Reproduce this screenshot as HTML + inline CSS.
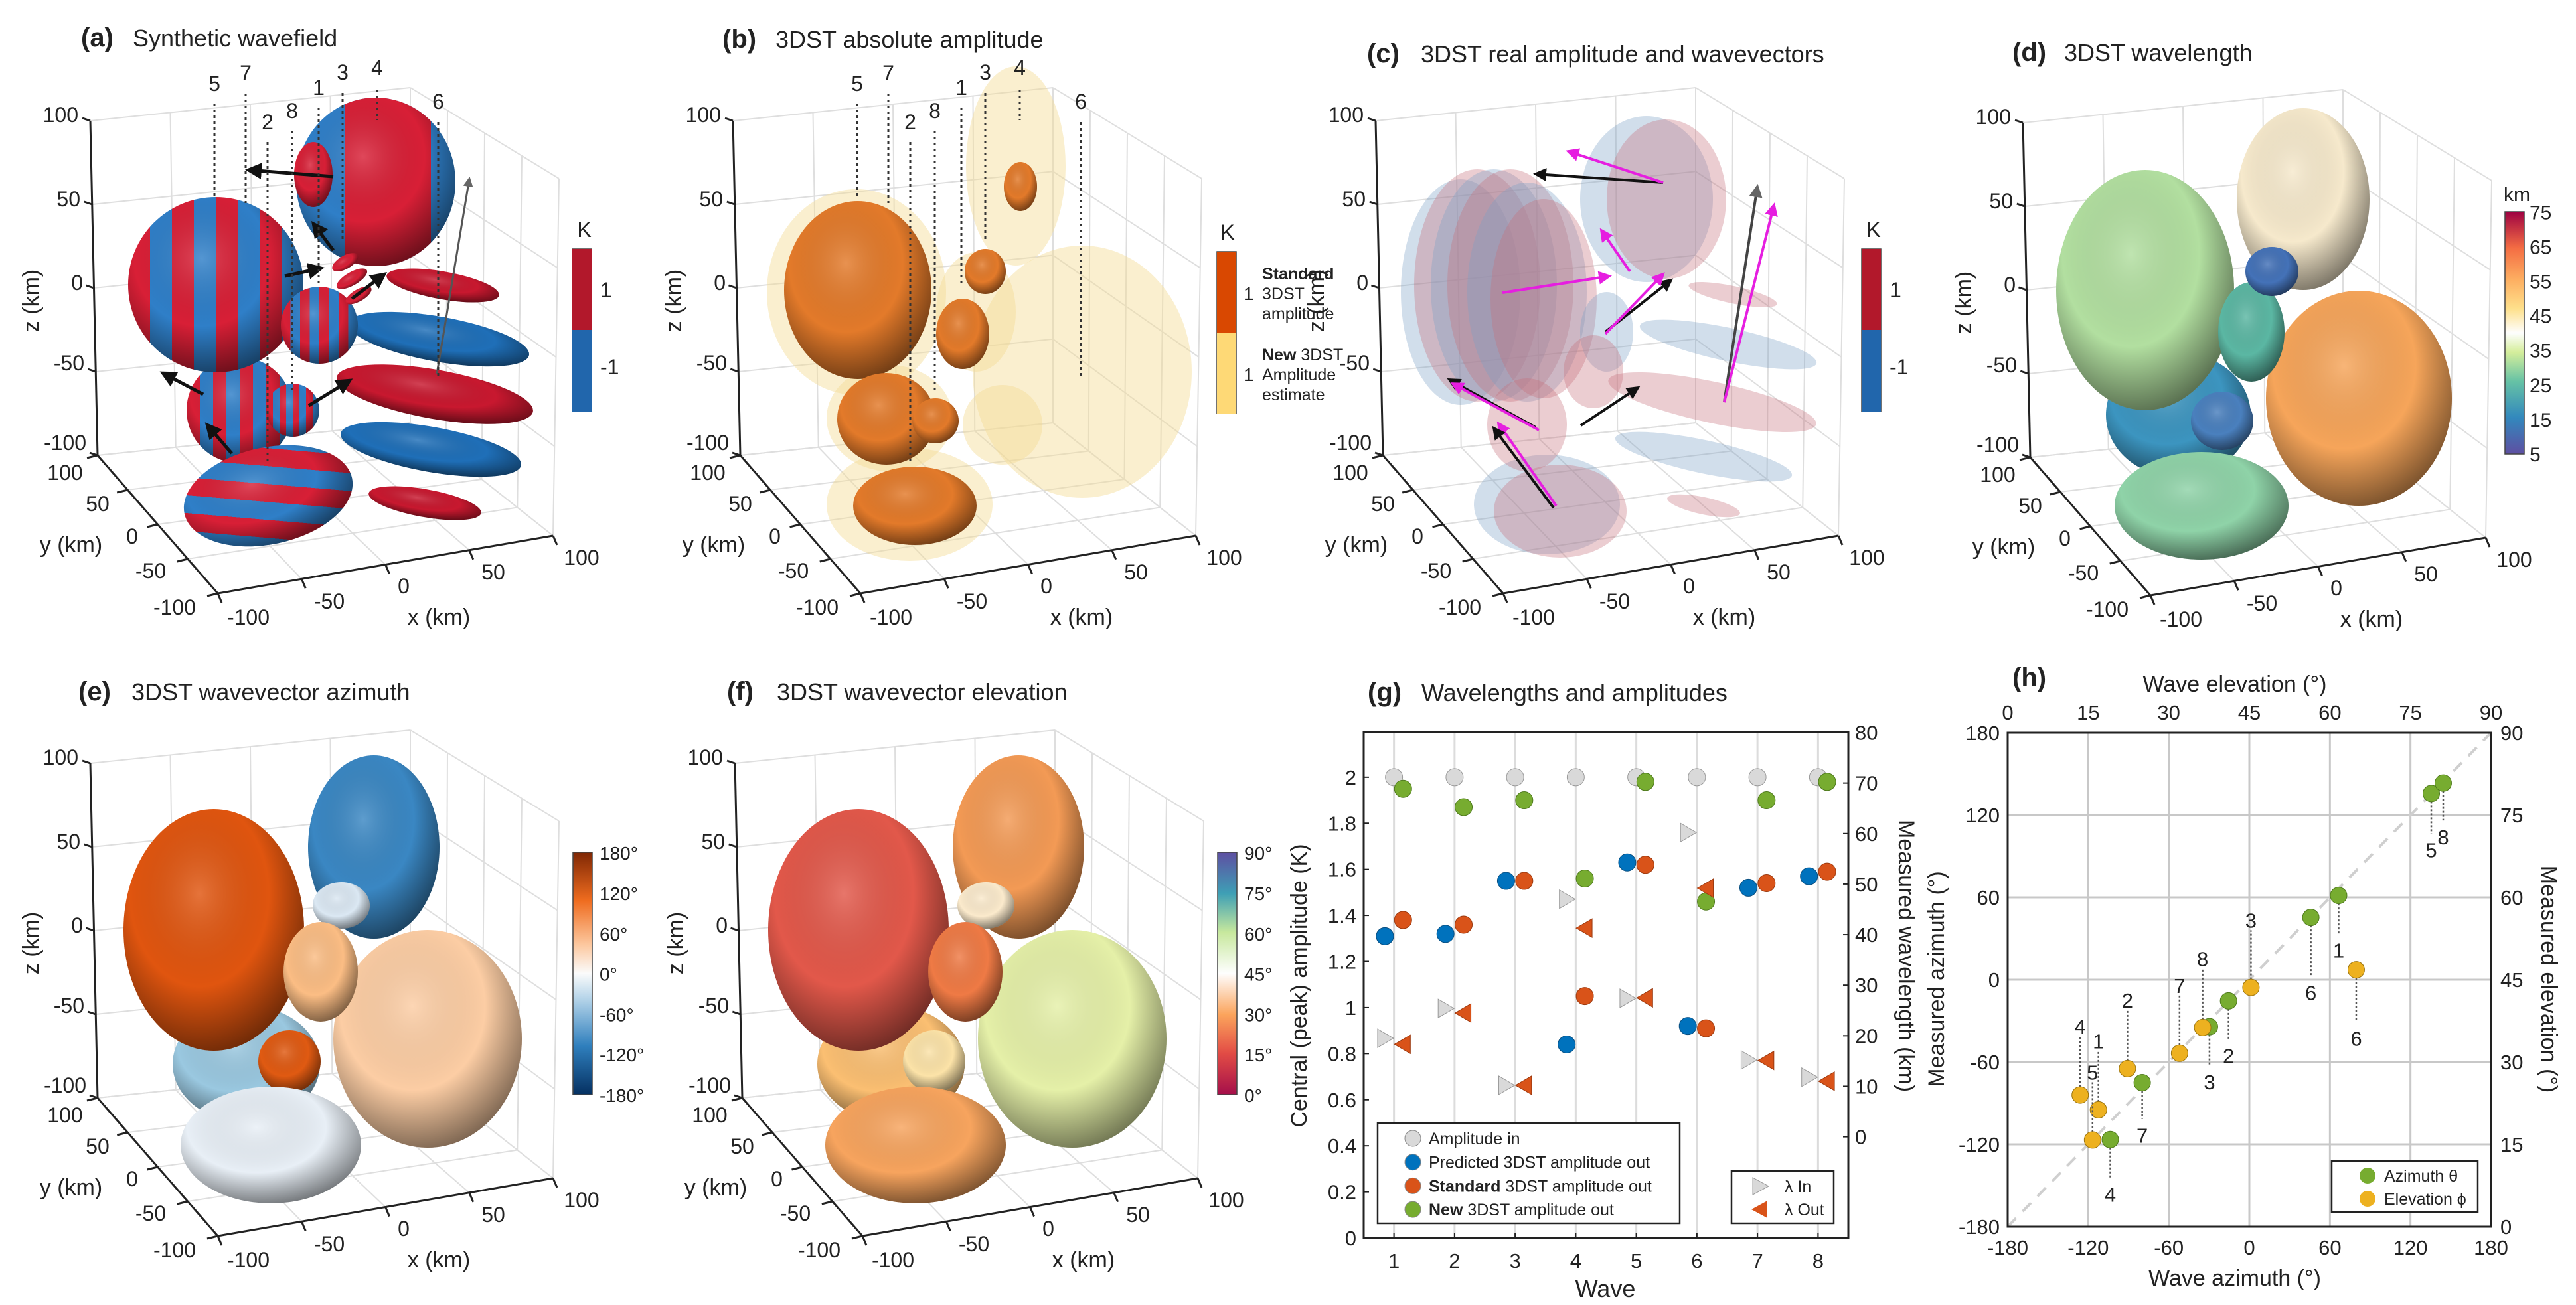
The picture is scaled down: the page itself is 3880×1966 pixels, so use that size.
<!DOCTYPE html>
<html><head><meta charset="utf-8"><title>3DST figure</title>
<style>html,body{margin:0;padding:0;background:#fff}svg{display:block}text{font-family:"Liberation Sans",Arial,sans-serif;fill:#222}</style></head>
<body>
<svg id="fig" xmlns="http://www.w3.org/2000/svg" width="3880" height="1966" viewBox="0 0 3880 1966">
<defs>
<radialGradient id="shade" cx="0.42" cy="0.35" r="0.7"><stop offset="0" stop-color="#fff" stop-opacity="0.18"/><stop offset="0.55" stop-color="#000" stop-opacity="0"/><stop offset="1" stop-color="#000" stop-opacity="0.55"/></radialGradient>
<linearGradient id="stripeV" x1="0" y1="0" x2="0.25" y2="0" spreadMethod="repeat"><stop offset="0" stop-color="#d81f36"/><stop offset="0.5" stop-color="#d81f36"/><stop offset="0.5" stop-color="#2f7fc8"/><stop offset="1" stop-color="#2f7fc8"/></linearGradient>
<linearGradient id="stripeD" x1="0" y1="0.3" x2="0.16" y2="0" spreadMethod="repeat"><stop offset="0" stop-color="#d81f36"/><stop offset="0.5" stop-color="#d81f36"/><stop offset="0.5" stop-color="#2f7fc8"/><stop offset="1" stop-color="#2f7fc8"/></linearGradient>
<linearGradient id="cbWL" x1="0" y1="1" x2="0" y2="0"><stop offset="0" stop-color="#5e4fa2"/><stop offset="0.15" stop-color="#3288bd"/><stop offset="0.3" stop-color="#66c2a5"/><stop offset="0.42" stop-color="#d5ee9b"/><stop offset="0.5" stop-color="#fefefe"/><stop offset="0.6" stop-color="#fee08b"/><stop offset="0.72" stop-color="#fdae61"/><stop offset="0.85" stop-color="#f46d43"/><stop offset="1" stop-color="#9e0142"/></linearGradient>
<linearGradient id="cbAZ" x1="0" y1="1" x2="0" y2="0"><stop offset="0" stop-color="#053061"/><stop offset="0.2" stop-color="#2f7fbd"/><stop offset="0.4" stop-color="#b8d6ea"/><stop offset="0.5" stop-color="#fbfbfb"/><stop offset="0.62" stop-color="#fcc79e"/><stop offset="0.8" stop-color="#ef6c1f"/><stop offset="1" stop-color="#7f2704"/></linearGradient>
<linearGradient id="cbEL" x1="0" y1="1" x2="0" y2="0"><stop offset="0" stop-color="#a50f4a"/><stop offset="0.17" stop-color="#e24c45"/><stop offset="0.33" stop-color="#fba45c"/><stop offset="0.5" stop-color="#fefefe"/><stop offset="0.67" stop-color="#c7e89d"/><stop offset="0.83" stop-color="#3e9fb5"/><stop offset="1" stop-color="#5e4fa2"/></linearGradient>
<clipPath id="topEll"><ellipse cx="566" cy="274" rx="120" ry="127"/></clipPath>
<marker id="ahK" viewBox="0 0 10 10" refX="8" refY="5" markerWidth="5" markerHeight="5" orient="auto"><path d="M0,0L10,5L0,10z" fill="#111"/></marker>
<marker id="ahG" viewBox="0 0 10 10" refX="8" refY="5" markerWidth="5" markerHeight="5" orient="auto"><path d="M0,0L10,5L0,10z" fill="#666"/></marker>
<marker id="ahM" viewBox="0 0 10 10" refX="8" refY="5" markerWidth="5" markerHeight="5" orient="auto"><path d="M0,0L10,5L0,10z" fill="#e61ee0"/></marker>
</defs>
</svg>
<script>
// ---------- Panel g data ----------
const waves=[1,2,3,4,5,6,7,8];
const ampIn=[2,2,2,2,2,2,2,2];
const ampPredicted=[1.31,1.32,1.55,0.84,1.63,0.92,1.52,1.57];
const ampStandard=[1.38,1.36,1.55,1.05,1.62,0.91,1.54,1.59];
const ampNew=[1.95,1.87,1.90,1.56,1.98,1.46,1.90,1.98];
const lambdaIn=[19.5,25.4,10.2,47,27.4,60.2,15.2,11.8];
const lambdaOut=[18.3,24.5,10.2,41.3,27.5,49.2,15.1,11];
const gLeftTicks=[0,0.2,0.4,0.6,0.8,1,1.2,1.4,1.6,1.8,2];
const gLeftTickLabels=['0','0.2','0.4','0.6','0.8','1','1.2','1.4','1.6','1.8','2'];
const gRightTicks=[0,10,20,30,40,50,60,70,80];
// ---------- Panel h data ----------
const hWaveIds=['1','2','3','4','5','6','7','8'];
const azIn=[66.5,-15.5,-29.7,-103.6,135.5,45.8,-79.8,144.4];
const azOut=[61.4,-15.4,-34.2,-116.5,135.8,45.4,-75,143.4];
const azLabelAt=[21,-56,-75,-157,94,-10,-114,103.5];
const elIn=[16.9,22.3,45.3,13.5,15.8,64.9,32,36.3];
const elOut=[21.3,28.8,43.6,24.0,15.8,46.8,31.6,36.3];
const elLabelAt=[33.7,41.1,55.7,36.4,28,34.2,43.8,48.7];
const hTicks=[-180,-120,-60,0,60,120,180];
const hElTicks=[0,15,30,45,60,75,90];

const NS='http://www.w3.org/2000/svg';
const svg=document.getElementById('fig');
function mk(tag,attrs,parent){const e=document.createElementNS(NS,tag);for(const k in attrs)e.setAttribute(k,attrs[k]);(parent||svg).appendChild(e);return e;}
function tx(s,x,y,size,attrs,parent){const e=mk('text',Object.assign({x:x,y:y,'font-size':size},attrs||{}),parent);e.textContent=s;return e;}
function grp(name,parent){const g=mk('g',{},parent);return g;}

// ---------- titles ----------
const titles=[['(a)','Synthetic wavefield',122,70,200],['(b)','3DST absolute amplitude',1088,72,1168],['(c)','3DST real amplitude and wavevectors',2059,94,2140],['(d)','3DST wavelength',3031,92,3109],['(e)','3DST wavevector azimuth',118,1055,198],['(f)','3DST wavevector elevation',1095,1055,1170],['(g)','Wavelengths and amplitudes',2060,1056,2141],['(h)','',3031,1034,3100]];
titles.forEach(t=>{const g=grp('panel-title-'+t[0].replace(/[()]/g,''));tx(t[0],t[2],t[3],40,{'font-weight':'bold',fill:'#000'},g);if(t[1])tx(t[1],t[4],t[3],36,{fill:'#000'},g);});

// ---------- 3D boxes ----------
const C={c000:[328,894],c100:[833,807],c010:[147,686],c110:[618,637],c001:[325,360],c101:[842,269],c011:[136,182],c111:[618,132]};
function P(ox,oy,x,y,z){const u=(x+100)/200,v=(y+100)/200,w=(z+100)/200;const L=(a,b,t)=>[a[0]+(b[0]-a[0])*t,a[1]+(b[1]-a[1])*t];
 const a=L(L(C.c000,C.c100,u),L(C.c010,C.c110,u),v),b=L(L(C.c001,C.c101,u),L(C.c011,C.c111,u),v),p=L(a,b,w);return [p[0]+ox,p[1]+oy];}
function line(p,q,st,w,g,extra){return mk('line',Object.assign({x1:p[0],y1:p[1],x2:q[0],y2:q[1],stroke:st,'stroke-width':w},extra||{}),g);}
const tv=[-100,-50,0,50,100];
function box(ox,oy,name){const g=grp(name+'-axes');
 tv.forEach(t=>{line(P(ox,oy,t,100,-100),P(ox,oy,t,100,100),'#dedede',2,g);line(P(ox,oy,-100,100,t),P(ox,oy,100,100,t),'#dedede',2,g);
  line(P(ox,oy,100,t,-100),P(ox,oy,100,t,100),'#dedede',2,g);line(P(ox,oy,100,-100,t),P(ox,oy,100,100,t),'#dedede',2,g);
  line(P(ox,oy,t,-100,-100),P(ox,oy,t,100,-100),'#dedede',2,g);line(P(ox,oy,-100,t,-100),P(ox,oy,100,t,-100),'#dedede',2,g);});
 line(P(ox,oy,-100,100,-100),P(ox,oy,-100,100,100),'#222',3,g);line(P(ox,oy,-100,-100,-100),P(ox,oy,-100,100,-100),'#222',3,g);line(P(ox,oy,-100,-100,-100),P(ox,oy,100,-100,-100),'#222',3,g);
 tv.forEach(t=>{const p=P(ox,oy,-100,100,t);line(p,[p[0]-12,p[1]-4],'#222',3,g);const q=P(ox,oy,-100,t,-100);line(q,[q[0]-16,q[1]+4],'#222',3,g);const r=P(ox,oy,t,-100,-100);line(r,[r[0]+6,r[1]+14],'#222',3,g);});
 const zl=[['-100',130,678],['-50',127,558],['0',125,437],['50',121,311],['100',118,184]];
 zl.forEach(l=>tx(l[0],l[1]+ox,l[2]+oy,32,{'text-anchor':'end'},g));
 const yl=[['-100',263,926],['-50',227,871],['0',199,819],['50',147,770],['100',98,723]];
 yl.forEach(l=>tx(l[0],l[1]+ox,l[2]+oy,32,{'text-anchor':'middle'},g));
 const xl=[['-100',374,941],['-50',496,917],['0',608,894],['50',743,873],['100',876,851]];
 xl.forEach(l=>tx(l[0],l[1]+ox,l[2]+oy,32,{'text-anchor':'middle'},g));
 tx('z (km)',0,0,34,{'text-anchor':'middle',transform:'translate('+(58+ox)+','+(453+oy)+') rotate(-90)'},g);
 tx('y (km)',107+ox,832+oy,34,{'text-anchor':'middle'},g);tx('x (km)',661+ox,941+oy,34,{'text-anchor':'middle'},g);}
const offs={a:[0,0],b:[968,0],c:[1936,0],d:[2911,3],e:[0,968],f:[971,968]};
for(const k in offs)box(offs[k][0],offs[k][1],'panel-'+k);

function blob(cx,cy,rx,ry,fill,g,op,rot,noShade){const e=mk('ellipse',{cx:cx,cy:cy,rx:rx,ry:ry,fill:fill,'fill-opacity':op||1},g);if(rot)e.setAttribute('transform','rotate('+rot+' '+cx+' '+cy+')');
 if(!noShade){const s=mk('ellipse',{cx:cx,cy:cy,rx:rx,ry:ry,fill:'url(#shade)','fill-opacity':op||1},g);if(rot)s.setAttribute('transform','rotate('+rot+' '+cx+' '+cy+')');}return e;}
function arrow(x1,y1,x2,y2,col,mid,g,w){line([x1,y1],[x2,y2],col,w||5,g,{'marker-end':'url(#'+mid+')'});}

// ---------- panel a ----------
(function(){const g=grp('panel-a-wavefield');
 mk('ellipse',{cx:566,cy:274,rx:120,ry:127,fill:'#2f7fc8'},g);
 const cg=mk('g',{'clip-path':'url(#topEll)'},g);mk('rect',{x:520,y:140,width:129,height:270,fill:'#d81f36'},cg);
 mk('ellipse',{cx:566,cy:274,rx:120,ry:127,fill:'url(#shade)'},g);
 blob(472,263,29,49,'#d81f36',g);
 [[667,430,86,21,'#c8182f'],[661,511,138,34,'#1f6fb8'],[655,594,150,37,'#c8182f'],[649,677,138,34,'#1f6fb8'],[640,758,86,21,'#c8182f']].forEach(b=>blob(b[0],b[1],b[2],b[3],b[4],g,1,10));
 blob(361,618,80,80,'url(#stripeV)',g);blob(441,618,40,40,'url(#stripeV)',g);
 blob(325,429,132,132,'url(#stripeV)',g);blob(481,490,58,58,'url(#stripeV)',g);
 [[520,395,22,10],[530,420,26,10],[540,445,22,9]].forEach(b=>blob(b[0],b[1],b[2],b[3],'#d81f36',g,1,-30));
 blob(404,747,129,73,'url(#stripeD)',g,1,-12);
 [[502,266,374,256],[658,563,707,269],[306,594,245,562],[465,611,527,573],[349,683,312,640],[429,416,484,404],[530,450,579,413],[502,377,472,337]].forEach(a=>arrow(a[0],a[1],a[2],a[3],a[1]==563?'#555':'#111',a[1]==563?'ahG':'ahK',g,a[1]==563?3:5));})();
const dl=[['5',323,129,156,300],['7',370,113,141,306],['2',403,187,214,698],['8',440,170,197,594],['1',480,135,162,429],['3',516,112,140,361],['4',568,105,135,181],['6',660,156,184,566]];
(function(){const g=grp('panel-b-amplitude');const Y='#f5dc94';
 [[1630,560,165,190],[1530,250,75,150],[1290,440,135,155],[1340,630,95,80],[1370,760,125,85],[1470,470,60,90],[1510,640,60,60]].forEach(b=>blob(b[0],b[1],b[2],b[3],Y,g,0.45,0,true));
 [[1292,437,111,134],[1537,281,25,37],[1484,409,31,34],[1450,503,40,53],[1335,631,74,69],[1409,634,35,34],[1378,762,93,59]].forEach(b=>blob(b[0],b[1],b[2],b[3],'#e37a2a',g));})();
[0,968].forEach((ox,i)=>{const g=grp(i?'panel-b-wave-labels':'panel-a-wave-labels');dl.forEach(d=>{tx(d[0],d[1]+ox,d[2]+8,32,{'text-anchor':'middle'},g);line([d[1]+ox,d[3]],[d[1]+ox,d[4]],'#333',3,g,{'stroke-dasharray':'4 5'});});});
(function(){const g=grp('panel-c-wavevectors');const R='#c7707c',B='#7aa0c6';
 [[2200,440,90,170,B],[2225,430,95,175,R],[2250,430,95,175,B],[2275,430,95,175,R],[2300,440,90,165,B],[2325,450,80,150,R]].forEach(b=>blob(b[0],b[1],b[2],b[3],b[4],g,0.35,0,true));
 [[2480,300,100,125,B],[2510,300,90,120,R]].forEach(b=>blob(b[0],b[1],b[2],b[3],b[4],g,0.35,0,true));
 [[2610,444,68,13,R],[2603,519,136,25,B],[2579,606,160,31,R],[2566,688,136,25,B],[2566,762,56,13,R]].forEach(b=>blob(b[0],b[1],b[2],b[3],b[4],g,0.35,12,true));
 [[2330,760,110,75,B],[2350,770,100,70,R],[2300,640,60,70,R],[2420,500,40,60,B],[2400,560,45,55,R]].forEach(b=>blob(b[0],b[1],b[2],b[3],b[4],g,0.35,0,true));
 [[2505,275,2313,262,'#111','ahK'],[2505,275,2362,228,'#e61ee0','ahM'],[2597,606,2647,281,'#444','ahG'],[2597,606,2672,309,'#e61ee0','ahM'],[2263,441,2424,416,'#e61ee0','ahM'],[2455,409,2412,347,'#e61ee0','ahM'],[2418,500,2517,422,'#111','ahK'],[2418,503,2505,413,'#e61ee0','ahM'],[2313,644,2183,572,'#111','ahK'],[2318,648,2188,578,'#e61ee0','ahM'],[2381,641,2467,584,'#111','ahK'],[2344,762,2257,638,'#e61ee0','ahM'],[2340,765,2250,645,'#111','ahK']].forEach(a=>arrow(a[0],a[1],a[2],a[3],a[4],a[5],g,4));})();
(function(){const g=grp('panel-d-wavelength');
 [[3281,625,109,94,'#3c95c0'],[3553,600,140,162,'#f6a55a'],[3469,300,100,137,'#f6e9cc'],[3231,437,134,181,'#b2dfa0'],[3391,500,50,75,'#5bb7a3'],[3422,409,40,37,'#4472b8'],[3347,634,47,44,'#4a80be'],[3316,762,131,81,'#8fd3a8']].forEach(b=>blob(b[0],b[1],b[2],b[3],b[4],g));})();
const efBlobs=[[371,1603,111,88],[644,1565,142,164],[563,1276,99,138],[322,1401,136,182],[514,1364,43,35],[483,1464,56,75],[436,1599,47,47],[408,1725,136,88]];
const eCols=['#9ac8e0','#fccda4','#3a87c3','#e0550f','#dbe8f3','#fbbd84','#e05a12','#e8eff6'];
const fCols=['#fbbf72','#e5f0a8','#f39a55','#e2584a','#fbeacc','#ef7a45','#fce3a8','#f7a45e'];
(function(){const g=grp('panel-e-azimuth');efBlobs.forEach((b,i)=>blob(b[0],b[1],b[2],b[3],eCols[i],g));})();
(function(){const g=grp('panel-f-elevation');efBlobs.forEach((b,i)=>blob(b[0]+971,b[1],b[2],b[3],fCols[i],g));})();
function cbar(x,y,h,name,fill){const g=grp(name);mk('rect',{x:x,y:y,width:29,height:h,fill:fill,stroke:'#444','stroke-width':1.5},g);return g;}
[[862,'a'],[2804,'c']].forEach(c=>{const g=cbar(c[0],375,245,'colorbar-'+c[1],'#fff');mk('rect',{x:c[0],y:375,width:29,height:122,fill:'#b2182b'},g);mk('rect',{x:c[0],y:497,width:29,height:123,fill:'#2166ac'},g);
 tx('K',c[0]+18,357,32,{'text-anchor':'middle'},g);tx('1',c[0]+42,448,32,{},g);tx('-1',c[0]+42,564,32,{},g);});
(function(){const g=cbar(1833,379,244,'colorbar-b','#fff');mk('rect',{x:1833,y:379,width:29,height:122,fill:'#d94801'},g);mk('rect',{x:1833,y:501,width:29,height:122,fill:'#fed976'},g);
 tx('K',1849,361,32,{'text-anchor':'middle'},g);tx('1',1873,452,28,{},g);tx('1',1873,574,28,{},g);
 const s=tx('',1901,421,25,{},g);const b1=mk('tspan',{'font-weight':'bold'},s);b1.textContent='Standard';tx('3DST',1901,451,25,{},g);tx('amplitude',1901,481,25,{},g);
 const n=tx('',1901,543,25,{},g);const b2=mk('tspan',{'font-weight':'bold'},n);b2.textContent='New';const t2=mk('tspan',{},n);t2.textContent=' 3DST';tx('Amplitude',1901,573,25,{},g);tx('estimate',1901,603,25,{},g);})();
(function(){const g=cbar(3773,319,365,'colorbar-d','url(#cbWL)');tx('km',3791,303,30,{'text-anchor':'middle'},g);['5','15','25','35','45','55','65','75'].forEach((l,i)=>tx(l,3810,695-i*52.1,30,{},g));})();
(function(){const g=cbar(863,1284,365,'colorbar-e','url(#cbAZ)');['-180°','-120°','-60°','0°','60°','120°','180°'].forEach((l,i)=>tx(l,903,1660-i*60.8,28,{},g));})();
(function(){const g=cbar(1834,1284,365,'colorbar-f','url(#cbEL)');['0°','15°','30°','45°','60°','75°','90°'].forEach((l,i)=>tx(l,1874,1660-i*60.8,28,{},g));})();

// ---------- panel g ----------
const gx=w=>2054+(w-0.5)/8*730, gyL=v=>1865-v/2.194*761.5, gyR=v=>1712.6-v/80*609.1;
(function(){const g=grp('panel-g-chart');
 waves.forEach(w=>{const l=line([gx(w),1103.5],[gx(w),1865],'#dcdcdc',3,g);});
 mk('rect',{x:2054,y:1103.5,width:730,height:761.5,fill:'none',stroke:'#222','stroke-width':3},g);
 gLeftTicks.forEach((v,i)=>{line([2054,gyL(v)],[2062,gyL(v)],'#222',2,g);tx(gLeftTickLabels[i],2043,gyL(v)+11,31,{'text-anchor':'end'},g);});
 gRightTicks.forEach(v=>{line([2776,gyR(v)],[2784,gyR(v)],'#222',2,g);tx(String(v),2794,gyR(v)+11,31,{},g);});
 waves.forEach(w=>{line([gx(w),1865],[gx(w),1857],'#222',2,g);tx(String(w),gx(w),1910,31,{'text-anchor':'middle'},g);});
 tx('Wave',2418,1954,36,{'text-anchor':'middle'},g);
 tx('Central (peak) amplitude (K)',0,0,34,{'text-anchor':'middle',transform:'translate(1968,1485) rotate(-90)'},g);
 tx('Measured wavelength (km)',0,0,34,{'text-anchor':'middle',transform:'translate(2860,1440) rotate(90)'},g);
 function dots(arr,off,fill,stroke,name){arr.forEach((v,i)=>{const c=mk('circle',{cx:gx(waves[i]+off),cy:gyL(v),r:13,fill:fill,stroke:stroke,'stroke-width':1},g);});}
 function tris(arr,off,dir,fill,stroke,name){arr.forEach((v,i)=>{const x=gx(waves[i]+off),y=gyR(v);const p=dir>0?[[x-11,y-14],[x+13,y],[x-11,y+14]]:[[x+11,y-14],[x-13,y],[x+11,y+14]];const t=mk('polygon',{points:p.map(q=>q.join(',')).join(' '),fill:fill,stroke:stroke,'stroke-width':1},g);});}
 dots(ampIn,0,'#d9d9d9','#999','amplitude-in');dots(ampPredicted,-0.15,'#0072bd','#0b4f80','predicted-amp');dots(ampStandard,0.15,'#d95319','#9b3a10','standard-amp');dots(ampNew,0.15,'#77ac30','#4f7a1e','new-amp');
 tris(lambdaIn,-0.15,1,'#d9d9d9','#999','lambda-in');tris(lambdaOut,0.15,-1,'#d95319','#9b3a10','lambda-out');
 const lg=grp('panel-g-legend',g);mk('rect',{x:2075,y:1692,width:455,height:151,fill:'#fff',stroke:'#222','stroke-width':2.5},lg);
 const ents=[['#d9d9d9','','Amplitude in'],['#0072bd','','Predicted 3DST amplitude out'],['#d95319','Standard',' 3DST amplitude out'],['#77ac30','New',' 3DST amplitude out']];
 ents.forEach((e,i)=>{const y=1715+i*35.7;mk('circle',{cx:2128,cy:y,r:12,fill:e[0],stroke:'#888','stroke-width':1},lg);const t=tx('',2152,y+9,25,{},lg);if(e[1]){const b=mk('tspan',{'font-weight':'bold'},t);b.textContent=e[1];}const r=mk('tspan',{},t);r.textContent=e[2];});
 const lg2=grp('panel-g-lambda-legend',g);mk('rect',{x:2608,y:1764,width:154,height:79,fill:'#fff',stroke:'#222','stroke-width':2.5},lg2);
 mk('polygon',{points:'2640,1774 2664,1787 2640,1800',fill:'#d9d9d9',stroke:'#999'},lg2);mk('polygon',{points:'2662,1809 2638,1822 2662,1835',fill:'#d95319'},lg2);
 tx('λ In',2688,1796,25,{},lg2);tx('λ Out',2688,1831,25,{},lg2);})();

// ---------- panel h ----------
const hx=v=>3024+(v+180)/360*728, hy=v=>1848-(v+180)/360*744, ex=e=>hx(e*4-180), ey=e=>hy(e*4-180);
(function(){const g=grp('panel-h-chart');
 hTicks.forEach(v=>{if(v>-180&&v<180){line([hx(v),1104],[hx(v),1848],'#c8c8c8',3,g);line([3024,hy(v)],[3752,hy(v)],'#c8c8c8',3,g);}});
 line([hx(-180),hy(-180)],[hx(180),hy(180)],'#cfcfcf',4,g,{'stroke-dasharray':'18 14'});
 mk('rect',{x:3024,y:1104,width:728,height:744,fill:'none',stroke:'#222','stroke-width':3},g);
 hTicks.forEach(v=>{tx(String(v),hx(v),1890,31,{'text-anchor':'middle'},g);tx(String(v),3012,hy(v)+11,31,{'text-anchor':'end'},g);});
 hElTicks.forEach(v=>{tx(String(v),ex(v),1084,31,{'text-anchor':'middle'},g);tx(String(v),3766,ey(v)+11,31,{},g);});
 tx('Wave azimuth (°)',3366,1937,34,{'text-anchor':'middle'},g);tx('Wave elevation (°)',3366,1042,34,{'text-anchor':'middle'},g);
 tx('Measured azimuth (°)',0,0,34,{'text-anchor':'middle',transform:'translate(2928,1475) rotate(-90)'},g);
 tx('Measured elevation (°)',0,0,34,{'text-anchor':'middle',transform:'translate(3828,1475) rotate(90)'},g);
 hWaveIds.forEach((id,i)=>{const x=hx(azIn[i]),y=hy(azOut[i]),ly=hy(azLabelAt[i]);line([x,y],[x,ly-26],'#555',2.5,g,{'stroke-dasharray':'3 3'});tx(id,x,ly+10,31,{'text-anchor':'middle',fill:'#000'},g);
  const c=mk('circle',{cx:x,cy:y,r:12.5,fill:'#77ac30',stroke:'#4f7a1e','stroke-width':1},g);});
 hWaveIds.forEach((id,i)=>{const x=ex(elIn[i]),y=ey(elOut[i]),ly=ey(elLabelAt[i]);const below=ly>y;line([x,y],[x,below?ly-26:ly+14],'#555',2.5,g,{'stroke-dasharray':'3 3'});tx(id,x,ly+10,31,{'text-anchor':'middle',fill:'#000'},g);
  const c=mk('circle',{cx:x,cy:y,r:12.5,fill:'#edb120',stroke:'#9a7410','stroke-width':1},g);});
 const lg=grp('panel-h-legend',g);mk('rect',{x:3512,y:1749,width:220,height:77,fill:'#fff',stroke:'#222','stroke-width':2.5},lg);
 mk('circle',{cx:3566,cy:1771,r:12,fill:'#77ac30'},lg);mk('circle',{cx:3566,cy:1806,r:12,fill:'#edb120'},lg);
 tx('Azimuth θ',3591,1780,25,{},lg);tx('Elevation ϕ',3591,1815,25,{},lg);})();
</script>
</body></html>
